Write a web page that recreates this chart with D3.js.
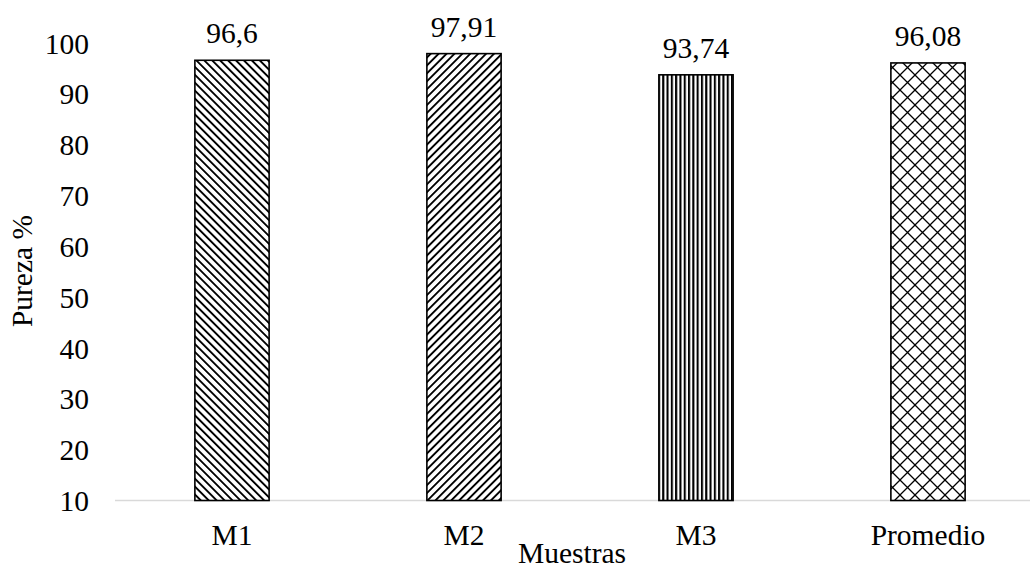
<!DOCTYPE html>
<html>
<head>
<meta charset="utf-8">
<script src="https://cdn.jsdelivr.net/npm/d3@7"></script>
<style>
  html, body { margin: 0; padding: 0; background: #fff; }
  svg { display: block; }
  text { font-family: "Liberation Serif", "Times New Roman", serif; fill: #000; }
</style>
</head>
<body>
<svg id="chart" width="1030" height="570"></svg>
<script>
// Purity of each sample and the average
const categories = ["M1", "M2", "M3", "Promedio"];
const values = [96.6, 97.91, 93.74, 96.08];
const valueLabels = ["96,6", "97,91", "93,74", "96,08"];
const yTicks = [10, 20, 30, 40, 50, 60, 70, 80, 90, 100];
const patternIds = ["pat-down", "pat-up", "pat-vert", "pat-diamond"];

const svg = d3.select("#chart");
const fontSize = 29.5;

const x = d3.scaleBand()
  .domain(categories)
  .range([116, 1044])
  .paddingInner(0.68)
  .paddingOuter(0.34);

const y = d3.scaleLinear()
  .domain([10, 100])
  .range([500.5, 43]);

// Hatch fills
const defs = svg.append("defs");

function diagonal(id, angle) {
  const p = defs.append("pattern")
    .attr("id", id)
    .attr("patternUnits", "userSpaceOnUse")
    .attr("width", 5.6).attr("height", 5.6)
    .attr("patternTransform", `rotate(${angle})`);
  p.append("rect").attr("width", 5.6).attr("height", 5.6).attr("fill", "#fff");
  p.append("rect").attr("x", 0).attr("width", 1.9).attr("height", 5.6).attr("fill", "#000");
}
diagonal("pat-down", -45);
diagonal("pat-up", 45);

const pv = defs.append("pattern")
  .attr("id", "pat-vert")
  .attr("patternUnits", "userSpaceOnUse")
  .attr("width", 4.3).attr("height", 10);
pv.append("rect").attr("width", 4.3).attr("height", 10).attr("fill", "#fff");
pv.append("rect").attr("width", 2.1).attr("height", 10).attr("fill", "#000");

const pd = defs.append("pattern")
  .attr("id", "pat-diamond")
  .attr("patternUnits", "userSpaceOnUse")
  .attr("width", 15).attr("height", 15)
  .attr("x", 0).attr("y", 0);
pd.append("rect").attr("width", 15).attr("height", 15).attr("fill", "#fff");
pd.append("path")
  .attr("d", "M0,0L15,15M15,0L0,15")
  .attr("stroke", "#000").attr("stroke-width", 1.3).attr("fill", "none");

// Baseline
svg.append("line")
  .attr("x1", 115).attr("x2", 1030)
  .attr("y1", y(10)).attr("y2", y(10))
  .attr("stroke", "#d9d9d9").attr("stroke-width", 1.5);

// Y tick labels
const yAxis = d3.axisLeft(y).tickValues(yTicks).tickSize(0).tickPadding(0);
const gy = svg.append("g").attr("transform", "translate(89,0)").call(yAxis);
gy.select(".domain").remove();
gy.selectAll("text")
  .attr("font-family", "Liberation Serif, serif")
  .attr("font-size", fontSize)
  .attr("fill", "#000")
  .attr("dy", "0.34em");

// Bars
svg.append("g").selectAll("rect")
  .data(categories)
  .join("rect")
  .attr("x", d => x(d))
  .attr("width", x.bandwidth())
  .attr("y", (d, i) => y(values[i]))
  .attr("height", (d, i) => y(10) - y(values[i]))
  .attr("fill", (d, i) => `url(#${patternIds[i]})`)
  .attr("stroke", "#000")
  .attr("stroke-width", 1.6);

// Value labels
svg.append("g").selectAll("text")
  .data(categories)
  .join("text")
  .attr("x", d => x(d) + x.bandwidth() / 2)
  .attr("y", (d, i) => y(values[i]) - 17)
  .attr("text-anchor", "middle")
  .attr("font-size", fontSize)
  .text((d, i) => valueLabels[i]);

// Category labels
const xAxis = d3.axisBottom(x).tickSize(0).tickPadding(0);
const gx = svg.append("g").attr("transform", "translate(0,545)").call(xAxis);
gx.select(".domain").remove();
gx.selectAll("text")
  .attr("font-family", "Liberation Serif, serif")
  .attr("font-size", fontSize)
  .attr("fill", "#000")
  .attr("dy", 0);

// Axis titles
svg.append("text")
  .attr("x", 572).attr("y", 563)
  .attr("text-anchor", "middle")
  .attr("font-size", fontSize)
  .text("Muestras");

svg.append("text")
  .attr("transform", "translate(32,271) rotate(-90)")
  .attr("text-anchor", "middle")
  .attr("font-size", fontSize)
  .text("Pureza %");
</script>
</body>
</html>
